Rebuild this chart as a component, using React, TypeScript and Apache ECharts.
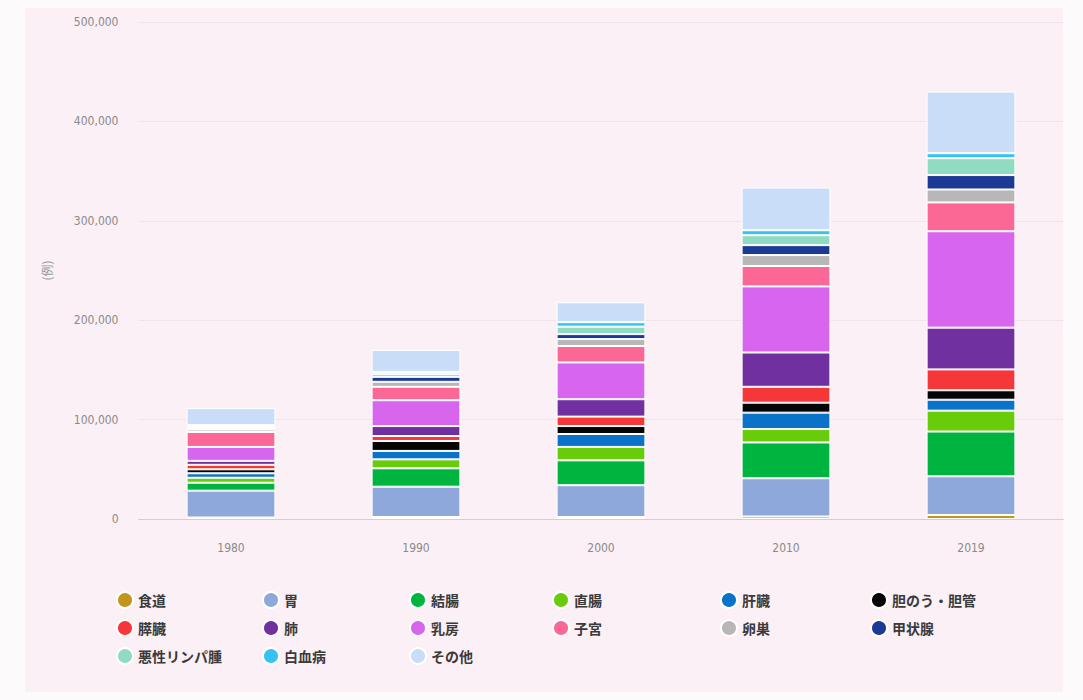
import React, { useEffect, useRef } from "react";
import * as echarts from "echarts";

const years = ["1980", "1990", "2000", "2010", "2019"];

const seriesNames = [
  "食道", "胃", "結腸", "直腸", "肝臓", "胆のう・胆管",
  "膵臓", "肺", "乳房", "子宮", "卵巣", "甲状腺",
  "悪性リンパ腫", "白血病", "その他",
];

const seriesColors = [
  "#c3951e", "#8fa8dc", "#00b53f", "#69cc0a", "#0a72c9", "#050505",
  "#f5373a", "#7030a0", "#d865ee", "#fb6895", "#b8b6b6", "#1b3a94",
  "#90dcc3", "#36c2f2", "#c9ddf9",
];

const esophagus = [1500, 2000, 2000, 2500, 4000];
const stomach = [27000, 30500, 32000, 38500, 39000];
const colon = [8000, 18500, 25000, 36000, 45000];
const rectum = [5000, 9000, 13500, 13500, 21000];
const liver = [4500, 8500, 13000, 16500, 11000];
const gallbladder = [4000, 10000, 8000, 10000, 9500];
const pancreas = [4500, 5000, 9500, 16000, 21000];
const lung = [4000, 10000, 17500, 34500, 42000];
const breast = [14000, 26000, 37000, 66500, 97000];
const uterus = [15000, 13500, 16500, 20500, 29000];
const ovary = [2500, 5000, 7000, 11000, 13000];
const thyroid = [1500, 5000, 5000, 10000, 14500];
const lymphoma = [1500, 3000, 7500, 10000, 17000];
const leukemia = [1500, 2000, 4500, 5000, 5000];
const others = [17000, 22000, 20000, 43000, 62000];

const seriesValues = [
  esophagus, stomach, colon, rectum, liver, gallbladder,
  pancreas, lung, breast, uterus, ovary, thyroid,
  lymphoma, leukemia, others,
];

const yTicks = [0, 100000, 200000, 300000, 400000, 500000];

const legendColumnLefts = [111, 257, 404, 547, 715, 865];

export default function App() {
  const ref = useRef<HTMLDivElement>(null);

  useEffect(() => {
    if (!ref.current) return;
    const chart = echarts.init(ref.current, null, { renderer: "svg" });

    const font = "'Noto Sans CJK JP', 'Noto Sans', sans-serif";

    const legends = legendColumnLefts.map((left, col) => ({
      orient: "vertical" as const,
      left,
      top: 586,
      itemWidth: 16,
      itemHeight: 16,
      itemGap: 10,
      icon: "circle",
      selectedMode: false,
      data: [col, col + 6, col + 12]
        .filter((i) => i < seriesNames.length)
        .map((i) => seriesNames[i]),
      textStyle: {
        fontFamily: font,
        fontSize: 14,
        fontWeight: "bold" as const,
        color: "#3a3a3a",
      },
    }));

    chart.setOption({
      animation: false,
      backgroundColor: "transparent",
      textStyle: { fontFamily: font },
      graphic: [
        {
          type: "rect",
          silent: true,
          z: -10,
          shape: { x: 25, y: 8, width: 1038, height: 684 },
          style: { fill: "#fbf0f5" },
        },
      ],
      grid: {
        left: 138.5,
        right: 19.5,
        top: 22,
        bottom: 181,
        containLabel: false,
      },
      legend: legends,
      xAxis: {
        type: "category",
        data: years,
        axisTick: { show: false },
        axisLine: { lineStyle: { color: "#d4cdd2", width: 1 } },
        axisLabel: {
          color: "#8a8a8a",
          fontSize: 12,
          margin: 23,
          fontFamily: "'DejaVu Sans Condensed', 'Liberation Sans Narrow', sans-serif",
        },
      },
      yAxis: {
        type: "value",
        min: yTicks[0],
        max: yTicks[yTicks.length - 1],
        interval: 100000,
        name: "(例)",
        nameLocation: "middle",
        nameRotate: 90,
        nameGap: 86,
        nameTextStyle: { color: "#9a9a9a", fontSize: 12, fontFamily: font },
        axisLine: { show: false },
        axisTick: { show: false },
        splitLine: { lineStyle: { color: "#efe4eb", width: 1 } },
        axisLabel: {
          color: "#8a8a8a",
          fontSize: 12,
          margin: 20,
          fontFamily: "'DejaVu Sans Condensed', 'Liberation Sans Narrow', sans-serif",
          formatter: (v: number) => v.toLocaleString("en-US"),
        },
      },
      series: seriesNames.map((name, i) => ({
        name,
        type: "bar",
        stack: "total",
        barWidth: "48%",
        data: seriesValues[i],
        itemStyle: {
          color: seriesColors[i],
          borderColor: "#ffffff",
          borderWidth: 1,
        },
      })),
    });

    return () => chart.dispose();
  }, []);

  return (
    <div
      ref={ref}
      style={{
        position: "fixed",
        left: 0,
        top: 0,
        width: 1083,
        height: 700,
        background: "#fdfafc",
      }}
    />
  );
}
